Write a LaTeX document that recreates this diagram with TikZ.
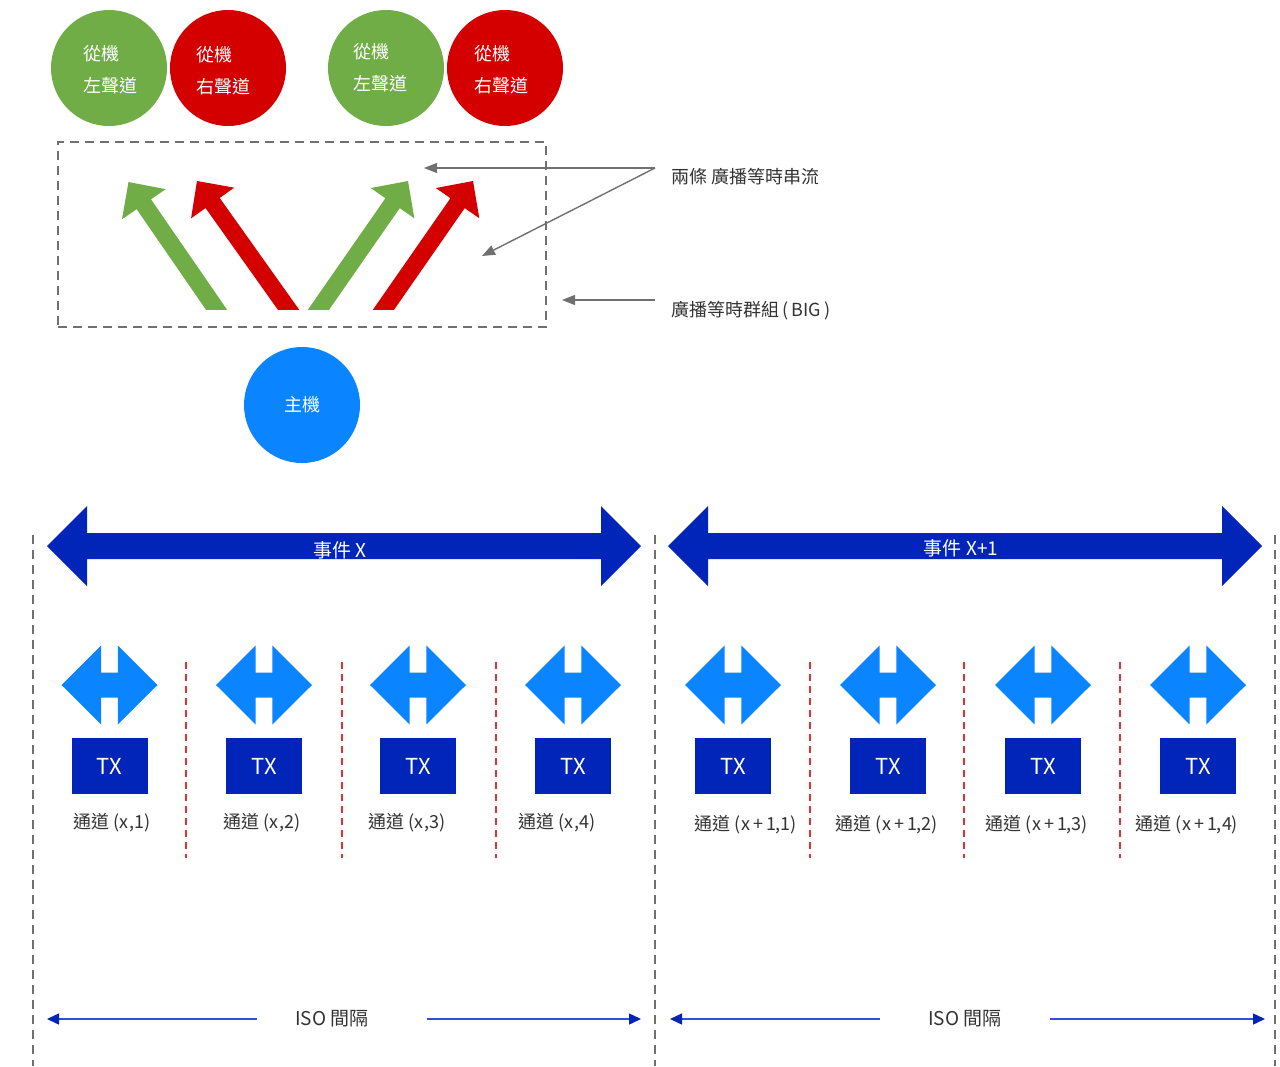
\documentclass[tikz,border=0pt]{standalone}
\usepackage{fontspec}
\setmainfont{Noto Sans CJK TC}
\usetikzlibrary{calc,arrows.meta}
\definecolor{sgreen}{HTML}{70AD47}
\definecolor{sred}{HTML}{D40000}
\definecolor{hblue}{HTML}{0A84FF}
\definecolor{dblue}{HTML}{0025B8}
\definecolor{gline}{HTML}{707070}
\definecolor{txtc}{HTML}{333333}
\definecolor{isoc}{HTML}{3550C8}
\definecolor{rdash}{HTML}{E03030}
\newcommand\fatarrow[5]{%
  \begin{scope}
    \clip (0,0) rectangle (1280,309);
    \coordinate (FT) at (#4,#5);
    \coordinate (FB) at ($(FT)!1.2!(#2,#3)$);
    \coordinate (FH) at ($(FT)!27pt!(FB)$);
    \fill[#1] ($(FB)!8.7pt!90:(FT)$) -- ($(FH)!8.7pt!90:(FT)$) -- ($(FH)!26.5pt!90:(FT)$) -- (FT)
      -- ($(FH)!26.5pt!-90:(FT)$) -- ($(FH)!8.7pt!-90:(FT)$) -- ($(FB)!8.7pt!-90:(FT)$) -- cycle;
  \end{scope}}
\begin{document}
\begin{tikzpicture}[x=1pt,y=-1pt,
  circ/.style={circle,minimum size=116pt,inner sep=0pt},
  ctext/.style={text=white,align=left,font=\fontsize{18}{32}\selectfont},
  gdash/.style={draw=gline,line width=1.2pt,dash pattern=on 9pt off 6pt},
  reddash/.style={draw=rdash,line width=1.4pt,dash pattern=on 7pt off 5pt},
  annarrow/.style={draw=gline,line width=1.4pt,-{Triangle[length=13pt,width=10pt]}},
  anntext/.style={text=txtc,anchor=west,font=\fontsize{18}{22}\selectfont},
  evtext/.style={text=white,font=\fontsize{19}{22}\selectfont},
  txbox/.style={fill=dblue,minimum width=76pt,minimum height=56pt,inner sep=0pt,text=white,font=\fontsize{22}{26}\selectfont},
  chtext/.style={text=txtc,font=\fontsize{18}{22}\selectfont},
  isoarrow/.style={draw=isoc,line width=1.4pt,-{Triangle[length=12pt,width=11pt,color=dblue]}},
  isotext/.style={text=txtc,font=\fontsize{19}{22}\selectfont}]
\useasboundingbox (0,0) rectangle (1280,1066);
\fill[white] (0,0) rectangle (1280,1066);

% top circles
\node[circ,fill=sgreen] (s1) at (109,68) {};
\node[circ,fill=sred] (s2) at (228,68) {};
\node[circ,fill=sgreen] (s3) at (386,68) {};
\node[circ,fill=sred] (s4) at (505,68) {};
\node[ctext] (t1) at (110,70) {從機\\左聲道};
\node[ctext] (t2) at (223,71) {從機\\右聲道};
\node[ctext] (t3) at (380,68) {從機\\左聲道};
\node[ctext] (t4) at (501,70) {從機\\右聲道};

% BIG box
\node[gdash,minimum width=488pt,minimum height=185pt,inner sep=0pt] (big) at (302,234.5) {};

% thick arrows
\fatarrow{sgreen}{216}{309}{128.5}{182}
\fatarrow{sred}{288}{309}{197}{181}
\fatarrow{sgreen}{319}{309}{408}{181}
\fatarrow{sred}{384}{309}{473}{181}

% host
\node[circ,fill=hblue,text=white,font=\fontsize{18}{22}\selectfont] (host) at (302,405) {主機};

% annotations
\node[anntext] (ann1) at (668,177) {兩條 廣播等時串流};
\node[anntext] (ann2) at (668,311) {廣播等時群組\hspace{3pt}(\hspace{3pt}BIG\hspace{3pt})};
\coordinate (j1) at (655,168);
\coordinate (a1) at (424,168);
\coordinate (a2) at (482,256);
\coordinate (j2) at (655,300);
\coordinate (a3) at (562,300);
\draw[annarrow] (j1) -- (a1);
\draw[annarrow] (j1) -- (a2);
\draw[annarrow] (j2) -- (a3);

% vertical gray dashed
\foreach \x/\n in {33/va,655/vb,1275/vc}{
  \coordinate (\n1) at (\x,535);
  \coordinate (\n2) at (\x,1066);
  \draw[gdash] (\n1) -- (\n2);
}

% event arrows
\foreach \o in {0,621}{
  \fill[dblue] (47+\o,546) -- (87+\o,506) -- (87+\o,533) -- (601+\o,533) -- (601+\o,506)
    -- (641+\o,546) -- (601+\o,586) -- (601+\o,559) -- (87+\o,559) -- (87+\o,586) -- cycle;
}
\node[evtext] (ev1) at (340,550) {事件 X};
\node[evtext] (ev2) at (961,548) {事件 X+1};

% small blue double arrows and TX boxes
\foreach \c [count=\i] in {109.5,264,418,573,733,888,1043,1198}{
  \fill[hblue] (\c-48,685) -- (\c-8.3,645.5) -- (\c-8.3,672.5) -- (\c+8.3,672.5) -- (\c+8.3,645.5)
    -- (\c+48,685) -- (\c+8.3,724.5) -- (\c+8.3,697.5) -- (\c-8.3,697.5) -- (\c-8.3,724.5) -- cycle;
  \node[txbox] (tx\i) at (\c,766) {TX};
}

% channel labels
\node[chtext] (c1) at (112,823) {通道 (x,1)};
\node[chtext] (c2) at (262,823) {通道 (x,2)};
\node[chtext] (c3) at (407,823) {通道 (x,3)};
\node[chtext] (c4) at (557,823) {通道 (x,4)};
\node[chtext] (c5) at (746,825) {通道 (x\,+\,1,1)};
\node[chtext] (c6) at (887,825) {通道 (x\,+\,1,2)};
\node[chtext] (c7) at (1037,825) {通道 (x\,+\,1,3)};
\node[chtext] (c8) at (1187,825) {通道 (x\,+\,1,4)};

% red dashed separators
\foreach \x/\n in {186/r1,342/r2,496/r3,810/r4,964/r5,1120/r6}{
  \coordinate (\n a) at (\x,662);
  \coordinate (\n b) at (\x,858);
  \draw[reddash] (\n a) -- (\n b);
}

% ISO intervals
\node[isotext] (iso1) at (332,1019) {ISO 間隔};
\node[isotext] (iso2) at (965,1019) {ISO 間隔};
\coordinate (ia1) at (47,1019);
\coordinate (ib1) at (257,1019);
\coordinate (ic1) at (427,1019);
\coordinate (id1) at (641,1019);
\coordinate (ia2) at (670,1019);
\coordinate (ib2) at (880,1019);
\coordinate (ic2) at (1050,1019);
\coordinate (id2) at (1265,1019);
\draw[isoarrow] (ib1) -- (ia1);
\draw[isoarrow] (ic1) -- (id1);
\draw[isoarrow] (ib2) -- (ia2);
\draw[isoarrow] (ic2) -- (id2);
\end{tikzpicture}
\end{document}
